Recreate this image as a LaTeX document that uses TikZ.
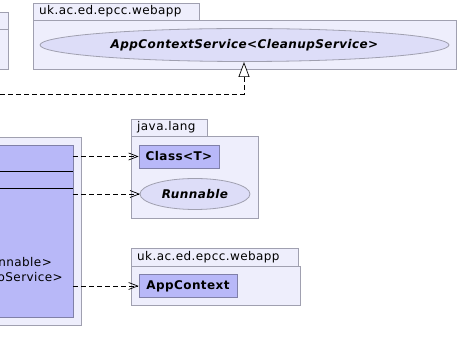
\documentclass[tikz,border=0pt]{standalone}
\usepackage{fontspec}
\setmainfont[LetterSpace=3.5]{DejaVu Sans}
\usetikzlibrary{arrows.meta}
\definecolor{pkgfill}{RGB}{238,238,252}
\definecolor{pkgline}{RGB}{160,160,176}
\definecolor{clsfill}{RGB}{184,184,248}
\definecolor{clsline}{RGB}{128,128,168}
\definecolor{ifcfill}{RGB}{221,221,248}
\tikzset{
  pkg/.style={draw=pkgline, fill=pkgfill, line width=0.8pt},
  pkglabel/.style={anchor=west, inner sep=0pt, font=\fontsize{12}{14}\selectfont},
  cls/.style={draw=clsline, fill=clsfill, line width=0.8pt, inner sep=0pt},
  ifc/.style={draw=pkgline, fill=ifcfill, line width=0.8pt},
  clstext/.style={font=\fontsize{12}{14}\selectfont\bfseries},
  ifctext/.style={font=\fontsize{12}{14}\selectfont\bfseries\itshape},
  plaintext/.style={anchor=east, inner sep=0pt, font=\fontsize{12}{14}\selectfont},
  dep/.style={dashed, dash pattern=on 5pt off 3pt, line width=0.7pt, -{Straight Barb[length=9pt,width=7pt]}},
  real/.style={dashed, dash pattern=on 5pt off 3pt, line width=0.7pt, -{Triangle[open,length=15pt,width=11pt,fill=white]}},
}
\begin{document}
\begin{tikzpicture}[x=1pt,y=-1pt]
\useasboundingbox (0,0) rectangle (459,363);
\clip (0,0) rectangle (459,363);
\fill[white] (0,0) rectangle (459,363);
% top-left partial package
\draw[pkg] (-10,12) rectangle (8,69);
\draw[pkgline, line width=0.8pt] (-10,29) -- (8,29);
% top package
\draw[pkg] (33,3) rectangle (199,20);
\draw[pkg] (33,20) rectangle (456,69);
\node[pkglabel] (tp1) at (39,11.5) {uk.ac.ed.epcc.webapp};
\draw[ifc] (244.5,45) ellipse (204.5 and 16.5);
\node[ifctext] (acs) at (244.5,45) {AppContextService<CleanupService>};
\coordinate (acsb) at (244,62);
% left package and class
\draw[pkg] (-10,137) rectangle (81,325);
\draw[cls] (-10,145) rectangle (73,317);
\draw[line width=0.8pt] (-10,171) -- (73,171);
\draw[line width=0.8pt] (-10,188) -- (73,188);
\node[plaintext] (t1) at (52,262) {nnable>};
\node[plaintext] (t2) at (63,277) {oService>};
\coordinate (m1) at (73,156.5);
\coordinate (m2) at (73,194);
\coordinate (m3) at (73,286);
\coordinate (m0) at (0,94);
% java.lang package
\draw[pkg] (131,119) rectangle (207,136);
\draw[pkg] (131,136) rectangle (258,218);
\node[pkglabel] (jl) at (137,127.5) {java.lang};
\node[cls, minimum width=80pt, minimum height=23pt] (cls) at (179,156.5) {};
\node[clstext] at (cls) {Class<T>};
\draw[ifc] (195,194) ellipse (55 and 15.5);
\node[ifctext] (run) at (195,194) {Runnable};
\coordinate (runw) at (140,194);
% bottom package
\draw[pkg] (131,248) rectangle (298,266);
\draw[pkg] (131,266) rectangle (300,305);
\node[pkglabel] (bp) at (137,257) {uk.ac.ed.epcc.webapp};
\node[cls, minimum width=98pt, minimum height=23.5pt] (ac) at (188,286) {};
\node[clstext] at (ac) {AppContext};
% connectors
\draw[real] (m0) -- (244,94) -- (acsb);
\draw[dep] (m1) -- (cls.west);
\draw[dep] (m2) -- (runw);
\draw[dep] (m3) -- (ac.west);
\end{tikzpicture}
\end{document}
